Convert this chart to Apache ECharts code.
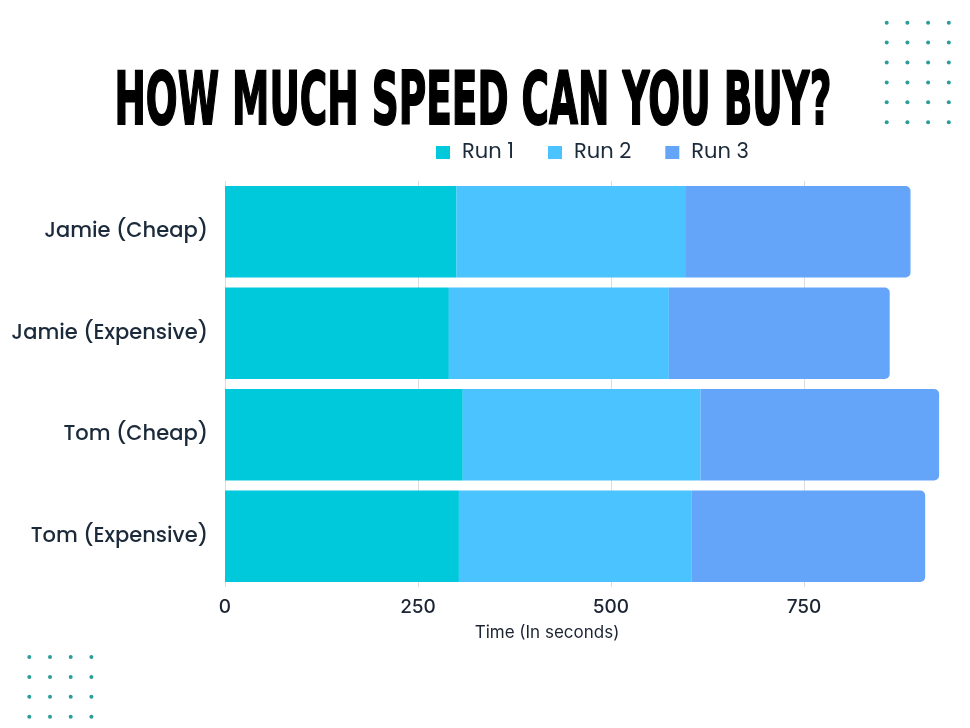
<!DOCTYPE html>
<html>
<head>
<meta charset="utf-8">
<script src="https://cdn.jsdelivr.net/npm/echarts@6/dist/echarts.min.js"></script>
<style>
html,body{margin:0;padding:0;background:#fff;}
#c{width:970px;height:728px;}
</style>
</head>
<body>
<div id="c"></div>
<script>
var categories = ['Jamie (Cheap)', 'Jamie (Expensive)', 'Tom (Cheap)', 'Tom (Expensive)'];
var seriesNames = ['Run 1', 'Run 2', 'Run 3'];
var run1 = [300, 290, 308, 303];
var run2 = [296, 285, 308, 301];
var run3 = [292, 286, 309, 303];
var xTicks = [0, 250, 500, 750];
var titleText = 'HOW MUCH SPEED CAN YOU BUY?';
var axisName = 'Time (In seconds)';

var colors = ['#00C9DC', '#4AC3FF', '#65A5F9'];
var dotColor = '#2a9d9a';
var labelFont = 'Poppins, "Open Sans", sans-serif';
var numFont = 'Inter, Roboto, sans-serif';

// title: condensed look obtained by horizontal scaling of a bold face
var titleFontSize = 73;
var titleFontFamily = '"DejaVu Sans", sans-serif';
var mc = document.createElement('canvas').getContext('2d');
mc.font = 'bold ' + titleFontSize + 'px ' + titleFontFamily;
var titleW = mc.measureText(titleText).width || 1000;
var titleScale = 717 / titleW;

var graphics = [];
graphics.push({
  type: 'text',
  x: 473,
  y: 105,
  scaleX: titleScale,
  scaleY: 1,
  style: {
    text: titleText,
    fontFamily: titleFontFamily,
    fontWeight: 'bold',
    fontSize: titleFontSize,
    fill: '#000',
    stroke: '#000',
    lineWidth: 2,
    align: 'center',
    verticalAlign: 'middle',
    textAlign: 'center',
    textVerticalAlign: 'middle'
  }
});
function dots(x0, y0, cols, rows) {
  for (var i = 0; i < cols; i++) {
    for (var j = 0; j < rows; j++) {
      graphics.push({
        type: 'circle',
        shape: { cx: x0 + i * 20.7, cy: y0 + j * 19.9, r: 2 },
        style: { fill: dotColor }
      });
    }
  }
}
dots(886.7, 22.7, 4, 6);
dots(29.3, 657, 4, 4);

var chart = echarts.init(document.getElementById('c'));
var dataArr = [run1, run2, run3];
var series = seriesNames.map(function (n, i) {
  return {
    name: n,
    type: 'bar',
    stack: 'total',
    barCategoryGap: '10%',
    data: dataArr[i],
    itemStyle: {
      color: colors[i],
      borderRadius: i === 2 ? [0, 5, 5, 0] : 0
    }
  };
});

chart.setOption({
  animation: false,
  backgroundColor: '#fff',
  graphic: graphics,
  legend: {
    data: seriesNames,
    left: 431,
    top: 137,
    icon: 'rect',
    itemWidth: 14,
    itemHeight: 13,
    itemGap: 34,
    textStyle: {
      fontFamily: labelFont,
      fontSize: 21,
      color: '#1b2a3a',
      padding: [0, 0, 0, 7]
    }
  },
  grid: { left: 225, width: 772, top: 181, bottom: 141, containLabel: false, outerBoundsMode: 'none' },
  xAxis: {
    type: 'value',
    min: 0,
    max: 1000,
    interval: 250,
    name: axisName,
    nameLocation: 'middle',
    nameGap: 37,
    nameTextStyle: {
      fontFamily: numFont,
      fontSize: 17,
      color: '#1b2433',
      padding: [0, 128, 0, 0]
    },
    axisLine: { show: false },
    axisTick: { show: false },
    axisLabel: {
      margin: 11,
      fontFamily: numFont,
      fontSize: 19,
      fontWeight: 500,
      color: '#1b2433',
      formatter: function (v) { return xTicks.indexOf(v) >= 0 ? String(v) : ''; }
    },
    splitLine: { show: true, lineStyle: { color: '#dcdcdc', width: 1 } }
  },
  yAxis: {
    type: 'category',
    inverse: true,
    data: categories,
    axisLine: { show: false },
    axisTick: { show: false },
    axisLabel: {
      margin: 17,
      fontFamily: labelFont,
      fontSize: 21,
      fontWeight: 500,
      color: '#1b2a3a'
    }
  },
  series: series
});
</script>
</body>
</html>
